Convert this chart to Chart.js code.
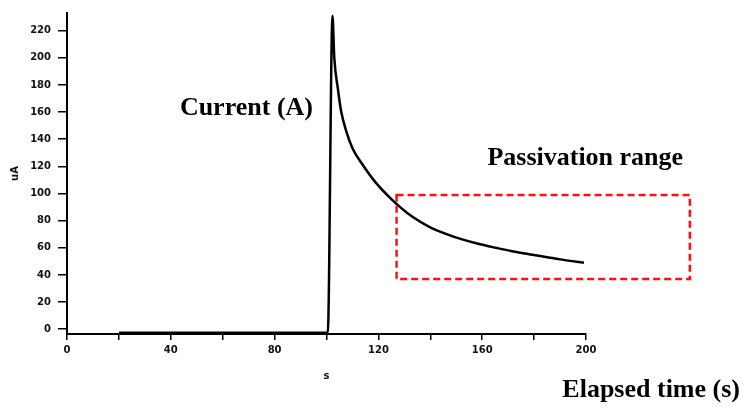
<!DOCTYPE html>
<html>
<head>
<meta charset="utf-8">
<title>Current transient</title>
<script src="https://cdn.jsdelivr.net/npm/chart.js@4/dist/chart.umd.min.js"></script>
<style>
  html, body { margin: 0; padding: 0; background: #fff; }
  canvas { display: block; }
</style>
</head>
<body>
<canvas id="currentChart" width="745" height="408"></canvas>
<script>
// ── Data ────────────────────────────────────────────────────
const timeS = [20, 60, 100.5, 102.3, 103, 104.4, 105.6, 107.6, 110.1, 114, 119, 125.5,
               133, 139.6, 146, 152.3, 158.8, 165.3, 171.5, 178, 184.5, 190.8, 199.2];
const currentUA = [-2.5, -2.5, -2.5, 231, 200, 177, 161, 146, 133, 121, 108, 95,
                   83, 75.5, 70.3, 66.2, 62.8, 60, 57.5, 55.3, 53.3, 51.3, 49];

const yTicks = [0, 20, 40, 60, 80, 100, 120, 140, 160, 180, 200, 220];
const xTicks = [0, 20, 40, 60, 80, 100, 120, 140, 160, 180, 200];
const xLabelled = [0, 40, 80, 120, 160, 200];

// passivation window, in data units: [t0, t1] x [i0, i1]
const passiveT = [127, 240];
const passiveI = [37, 99];

const tickFont  = { family: 'DejaVu Sans', size: 10, weight: 'bold' };
const noteFont  = 'bold 26px "Liberation Serif", "Times New Roman", serif';
const ink       = '#111';

// ── Annotation overlay ──────────────────────────────────────
const notes = {
  id: 'notes',
  afterDraw(chart) {
    const { ctx, scales: { x, y } } = chart;
    ctx.save();

    // dashed box round the passivation range
    const left = x.getPixelForValue(passiveT[0]);
    const right = x.getPixelForValue(passiveT[1]);
    const top = y.getPixelForValue(passiveI[1]);
    const bottom = y.getPixelForValue(passiveI[0]);
    ctx.strokeStyle = '#ff1010';
    ctx.lineWidth = 2.5;
    ctx.setLineDash([7, 4]);
    ctx.strokeRect(left, top, right - left, bottom - top);
    ctx.setLineDash([]);

    ctx.fillStyle = '#000';
    ctx.font = noteFont;
    ctx.textBaseline = 'middle';
    ctx.textAlign = 'left';
    ctx.fillText('Current (A)', x.getPixelForValue(43.5), y.getPixelForValue(163));
    ctx.fillText('Passivation range', x.getPixelForValue(162), y.getPixelForValue(126));

    ctx.textAlign = 'right';
    ctx.fillText('Elapsed time (s)', chart.width - 5, chart.height - 18);
    ctx.restore();
  }
};

// ── Chart ───────────────────────────────────────────────────
new Chart(document.getElementById('currentChart'), {
  type: 'scatter',
  data: {
    datasets: [{
      data: timeS.map((t, i) => ({ x: t, y: currentUA[i] })),
      showLine: true,
      borderColor: '#000',
      borderWidth: 2.5,
      pointRadius: 0,
      cubicInterpolationMode: 'monotone'
    }]
  },
  options: {
    responsive: false,
    animation: false,
    devicePixelRatio: 1,
    layout: { padding: { top: 4, right: 159, bottom: 0, left: 0 } },
    plugins: { legend: { display: false }, tooltip: { enabled: false } },
    scales: {
      x: {
        type: 'linear',
        min: 0,
        max: 200,
        afterBuildTicks: s => { s.ticks = xTicks.map(v => ({ value: v })); },
        afterFit: s => { s.height = 74; },
        border: { display: true, color: '#000', width: 2 },
        grid: { drawOnChartArea: false, color: '#000', lineWidth: 1.5, tickLength: 6 },
        ticks: {
          color: ink,
          font: tickFont,
          padding: 4,
          maxRotation: 0,
          autoSkip: false,
          callback: v => xLabelled.includes(v) ? String(v) : ''
        },
        title: { display: true, text: 's', color: ink, font: tickFont, padding: { top: 0, bottom: 26 } }
      },
      y: {
        type: 'linear',
        min: -3.5,
        max: 233,
        afterBuildTicks: s => { s.ticks = yTicks.map(v => ({ value: v })); },
        afterFit: s => { s.width = 67; },
        border: { display: true, color: '#000', width: 2 },
        grid: { drawOnChartArea: false, color: '#000', lineWidth: 1.5, tickLength: 9 },
        ticks: { color: ink, font: tickFont, padding: 7, autoSkip: false },
        title: { display: true, text: 'uA', color: ink, font: tickFont, padding: { top: 9, bottom: 0 } }
      }
    }
  },
  plugins: [notes]
});
</script>
</body>
</html>
